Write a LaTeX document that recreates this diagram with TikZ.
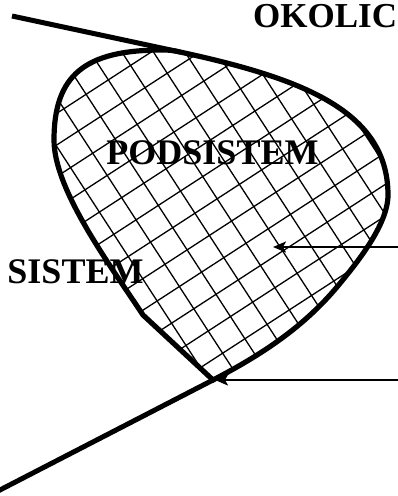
\documentclass[tikz,border=0pt]{standalone}
\usepackage{fontspec}
\setmainfont{Liberation Serif}
\usetikzlibrary{arrows.meta}
\newcommand\blobpath{(tip) -- (bend) .. controls (110,265) and (54,190) .. (west)
  .. controls (54,75) and (85,50) .. (crown) .. controls (170,50) and (172,50.3) .. (touch)
  .. controls (300,78) and (388,110) .. (east) .. controls (388,225) and (356,264) .. (belly)
  .. controls (305,325) and (266,352.5) .. (tip) -- cycle}
\begin{document}
\begin{tikzpicture}[x=1pt, y=-1pt,
    rim/.style={line width=5.2pt},
    edge/.style={line width=5pt},
    hatch/.style={line width=1.3pt},
    arr/.style={-{Stealth[length=13pt, width=11pt, inset=3pt]}, line width=2pt},
    lbl/.style={font=\fontsize{36}{40}\selectfont\bfseries, inner sep=0pt, anchor=base}
]
\useasboundingbox (0,0) rectangle (398,496);
\clip (0,0) rectangle (398,496);

\coordinate (tip) at (213,380);
\coordinate (bend) at (143,315);
\coordinate (west) at (54,140);
\coordinate (crown) at (162,50);
\coordinate (touch) at (180,52);
\coordinate (east) at (388,195);
\coordinate (belly) at (337,287);

% subsystem with cross hatching
\begin{scope}
  \clip \blobpath;
  \begin{scope}[shift={(180.5,191)}, rotate=33]
    \foreach \k in {-12,...,12}{
      \draw[hatch] (\k*26.5, -340) -- (\k*26.5, 340);
      \draw[hatch] (-340, \k*26.5) -- (340, \k*26.5);
    }
  \end{scope}
\end{scope}
\draw[rim] \blobpath;

% system boundary
\coordinate (nw) at (12,16);
\coordinate (sw) at (-2,491);
\draw[edge] (nw) -- (touch);
\draw[edge] (sw) -- (tip);

\coordinate (in1) at (273,247);
\coordinate (in2) at (215,380);
\coordinate (out1) at (400,247);
\coordinate (out2) at (400,380);
\draw[arr] (out1) -- (in1);
\draw[arr] (out2) -- (in2);

\node[lbl, anchor=base west, font=\fontsize{35}{40}\selectfont\bfseries] (env) at (253,27) {OKOLIC};
\node[lbl] (sub) at (212.5,164.5) {PODSISTEM};
\node[lbl] (sys) at (75.5,283) {SISTEM};
\end{tikzpicture}
\end{document}
